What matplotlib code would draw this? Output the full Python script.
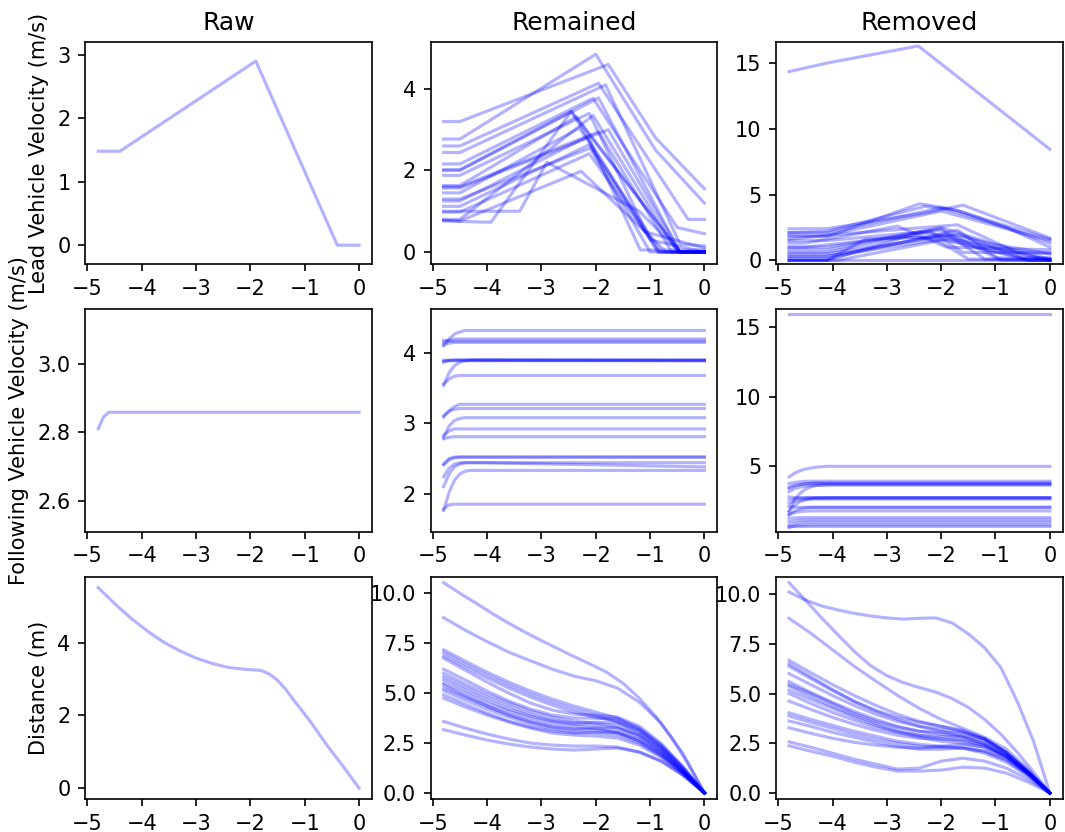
import matplotlib
matplotlib.use("Agg")
import matplotlib.pyplot as plt

columnTitles = ["Raw", "Remained", "Removed"]
rowLabels = [
    "Lead Vehicle Velocity (m/s)",
    "Following Vehicle Velocity (m/s)",
    "Distance (m)",
]

# ---- lead vehicle velocity: (time knots, values) per trajectory ----
leadRaw = [
    ([-4.8, -4.4, -1.9, -0.4, 0], [1.48, 1.48, 2.9, 0.0, 0.0]),
]

leadRemained = [
    ([-4.8, -4.5, -1.77, -0.9, 0], [3.2, 3.2, 4.6, 2.8, 1.55]),
    ([-4.8, -4.5, -2.0, -0.9, 0], [2.77, 2.77, 4.85, 2.5, 1.2]),
    ([-4.8, -4.5, -1.95, -0.3, 0], [2.6, 2.6, 4.14, 0.8, 0.8]),
    ([-4.8, -4.5, -1.82, -0.45, 0], [2.44, 2.44, 4.1, 0.2, 0.15]),
    ([-4.8, -4.5, -2.05, -0.5, 0], [2.16, 2.16, 3.77, 0.6, 0.45]),
    ([-4.8, -4.5, -2.45, -0.45, 0], [2.02, 2.02, 3.45, 0.0, 0.0]),
    ([-4.8, -4.5, -2.12, -1.0, 0], [1.88, 1.88, 3.4, 0.3, 0.0]),
    ([-4.8, -4.5, -2.36, -0.45, 0], [1.63, 1.63, 3.32, 0.0, 0.0]),
    ([-4.8, -4.5, -1.77, -0.45, 0], [1.57, 1.57, 3.0, 0.0, 0.0]),
    ([-4.8, -4.5, -2.3, -0.8, 0], [1.45, 1.45, 3.04, 0.0, 0.0]),
    ([-4.8, -4.5, -2.15, -1.18, 0], [1.25, 1.25, 2.83, 0.05, 0.05]),
    ([-4.8, -4.5, -2.12, -0.85, 0], [1.12, 1.12, 2.63, 0.0, 0.0]),
    ([-4.8, -4.5, -2.12, -1.1, 0], [0.98, 0.98, 2.41, 0.5, 0.1]),
    ([-4.8, -3.4, -2.9, -1.2, -0.45, 0], [1.0, 1.0, 2.2, 1.0, 0.0, 0.0]),
    ([-4.8, -4.5, -3.93, -2.45, -0.85, 0], [0.78, 0.75, 0.73, 3.45, 0.0, 0.0]),
    ([-4.8, -4.5, -2.27, -0.7, 0], [0.76, 0.76, 1.98, 0.0, 0.0]),
    ([-4.8, -4.5, -1.95, -0.45, 0], [2.0, 2.0, 3.78, 0.0, 0.0]),
    ([-4.8, -4.5, -2.1, -1.0, 0], [1.3, 1.3, 2.55, 0.0, 0.0]),
    ([-4.8, -4.5, -2.05, -0.5, 0], [0.8, 0.8, 3.35, 0.0, 0.0]),
    ([-4.8, -4.5, -1.95, -0.6, 0], [1.6, 1.6, 2.95, 0.0, 0.0]),
]

leadRemoved = [
    ([-4.8, -4.1, -2.42, 0], [14.35, 15.0, 16.3, 8.45]),
    ([-4.8, -4.1, -2.4, -1.8, 0], [1.8, 1.8, 4.3, 3.9, 1.6]),
    ([-4.8, -4.1, -2.0, 0], [1.6, 1.9, 3.75, 1.5]),
    ([-4.8, -4.1, -2.3, -1.6, 0], [2.4, 2.4, 3.6, 4.2, 1.7]),
    ([-4.8, -4.1, -2.3, -1.7, 0], [2.1, 2.2, 4.1, 3.8, 1.3]),
    ([-4.8, -4.5, -2.8, -1.9, 0], [1.3, 1.3, 2.6, 1.0, 0.8]),
    ([-4.8, -4.1, -2.0, -1.0, 0], [1.0, 1.0, 2.4, 0.2, 0.1]),
    ([-4.8, -4.1, -2.0, -1.0, 0], [0.8, 0.8, 2.5, 1.2, 0.5]),
    ([-4.8, -4.1, -1.7, -0.4, 0], [0.5, 0.5, 2.0, 0.0, 0.0]),
    ([-4.8, -4.1, -2.0, -0.5, 0], [0.3, 0.3, 1.6, 0.2, 0.2]),
    ([-4.8, -4.1, -1.7, -0.9, 0], [0.1, 0.1, 2.3, 0.0, 0.0]),
    ([-4.8, -4.1, -2.4, -1.6, 0], [0.0, 0.0, 2.1, 1.8, 0.1]),
    ([-4.8, -3.9, -1.9, -0.4, 0], [0.0, 0.0, 1.6, 0.0, 0.0]),
    ([-4.8, 0], [0.05, 0.05]),
    ([-4.8, -4.1, -2.0, -1.2, 0], [1.5, 1.5, 2.3, 0.1, 0.1]),
    ([-4.8, -4.1, -1.7, -0.6, 0], [1.9, 1.9, 2.7, 0.6, 0.5]),
    ([-4.8, -4.1, -2.2, -1.6, 0], [0.6, 0.6, 2.2, 0.6, 0.6]),
    ([-4.8, -4.5, -2.7, -2.1, -1.5, 0], [1.0, 1.0, 1.8, 1.6, 0.1, 0.0]),
    ([-4.8, -4.1, -3.4, -2.0, 0], [0.0, 0.0, 1.6, 1.8, 0.0]),
    ([-4.8, -4.1, -2.0, -0.8, 0], [2.1, 2.1, 4.0, 2.5, 1.0]),
    ([-4.8, -4.1, -2.0, 0], [0.3, 0.3, 1.9, 0.0]),
]

# ---- following vehicle velocity ----
followTime = [-4.8, -4.7, -4.6, -4.5, -4.4, -4.3, -4.1, 0]

followRaw = [
    [2.81, 2.845, 2.858, 2.858, 2.858, 2.858, 2.858, 2.858],
]

followRemained = [
    [4.10, 4.20, 4.27, 4.30, 4.32, 4.32, 4.32, 4.32],
    [4.15, 4.18, 4.20, 4.20, 4.20, 4.20, 4.20, 4.20],
    [4.18, 4.17, 4.17, 4.17, 4.17, 4.17, 4.17, 4.17],
    [4.12, 4.14, 4.15, 4.15, 4.15, 4.15, 4.15, 4.15],
    [3.87, 3.89, 3.90, 3.90, 3.90, 3.90, 3.90, 3.90],
    [3.88, 3.90, 3.90, 3.90, 3.90, 3.90, 3.90, 3.89],
    [3.90, 3.89, 3.89, 3.89, 3.89, 3.89, 3.89, 3.89],
    [3.54, 3.72, 3.82, 3.87, 3.89, 3.90, 3.90, 3.90],
    [3.56, 3.63, 3.67, 3.68, 3.68, 3.68, 3.68, 3.68],
    [3.09, 3.18, 3.24, 3.27, 3.27, 3.27, 3.27, 3.27],
    [3.11, 3.17, 3.20, 3.21, 3.21, 3.21, 3.21, 3.21],
    [2.80, 2.96, 3.04, 3.07, 3.08, 3.08, 3.08, 3.08],
    [2.83, 2.89, 2.92, 2.92, 2.92, 2.92, 2.92, 2.92],
    [2.78, 2.80, 2.81, 2.81, 2.81, 2.81, 2.81, 2.81],
    [2.41, 2.48, 2.51, 2.52, 2.52, 2.52, 2.52, 2.52],
    [2.42, 2.50, 2.52, 2.52, 2.52, 2.52, 2.52, 2.52],
    [2.24, 2.36, 2.42, 2.44, 2.44, 2.44, 2.44, 2.44],
    [2.10, 2.28, 2.38, 2.42, 2.44, 2.44, 2.44, 2.38],
    [1.76, 2.02, 2.19, 2.28, 2.32, 2.33, 2.33, 2.33],
    [1.78, 1.84, 1.85, 1.85, 1.85, 1.85, 1.85, 1.85],
]

followRemoved = [
    [16.0, 16.0, 16.0, 16.0, 16.0, 16.0, 16.0, 16.0],
    [4.24, 4.50, 4.68, 4.80, 4.88, 4.94, 5.00, 5.00],
    [3.76, 3.84, 3.89, 3.92, 3.93, 3.93, 3.93, 3.93],
    [3.40, 3.58, 3.68, 3.74, 3.78, 3.80, 3.80, 3.80],
    [3.17, 3.38, 3.50, 3.57, 3.61, 3.63, 3.64, 3.64],
    [1.80, 2.60, 3.05, 3.35, 3.52, 3.62, 3.70, 3.70],
    [2.57, 2.66, 2.71, 2.73, 2.74, 2.74, 2.74, 2.74],
    [2.33, 2.48, 2.57, 2.61, 2.63, 2.64, 2.64, 2.64],
    [1.74, 2.20, 2.45, 2.60, 2.68, 2.72, 2.74, 2.74],
    [2.10, 2.07, 2.05, 2.05, 2.05, 2.05, 2.05, 2.05],
    [1.55, 1.67, 1.74, 1.77, 1.79, 1.79, 1.79, 1.79],
    [1.26, 1.29, 1.31, 1.31, 1.31, 1.31, 1.31, 1.31],
    [1.02, 1.08, 1.12, 1.14, 1.14, 1.14, 1.14, 1.14],
    [0.79, 0.88, 0.94, 0.97, 0.98, 0.98, 0.98, 0.98],
    [0.60, 0.70, 0.76, 0.78, 0.79, 0.79, 0.79, 0.79],
    [0.65, 0.67, 0.67, 0.67, 0.67, 0.67, 0.67, 0.67],
    [2.80, 2.76, 2.74, 2.74, 2.74, 2.74, 2.74, 2.74],
    [3.50, 3.63, 3.70, 3.74, 3.76, 3.76, 3.76, 3.76],
    [1.50, 1.78, 1.93, 2.00, 2.04, 2.05, 2.05, 2.05],
]

# ---- distance between vehicles ----
distTime = [-4.8, -4.4, -4.0, -3.6, -3.2, -2.8, -2.4, -2.0, -1.6, -1.2, -0.8, -0.4, 0]
distTimeFine = [-4.8, -4.5, -4.2, -3.9, -3.6, -3.3, -3.0, -2.7, -2.4,
                -2.1, -1.8, -1.5, -1.2, -0.9, -0.6, -0.3, 0]
distTimeRaw = [-4.8, -4.5, -4.2, -3.9, -3.6, -3.3, -3.0, -2.7, -2.4, -2.1,
               -1.8, -1.65, -1.5, -1.35, -1.2, -0.9, -0.6, -0.3, 0]

distRaw = [
    (distTimeRaw, [5.52, 5.08, 4.68, 4.33, 4.02, 3.78, 3.58, 3.43, 3.32, 3.27,
                   3.24, 3.14, 2.97, 2.72, 2.42, 1.84, 1.2, 0.61, 0.0]),
]

distRemained = [
    (distTimeFine, [10.53, 10.0, 9.5, 8.98, 8.5, 8.05, 7.63, 7.23, 6.83,
                    6.45, 6.05, 5.5, 4.75, 3.85, 2.75, 1.45, 0]),
    (distTime, [8.78, 8.15, 7.58, 7.05, 6.62, 6.2, 5.85, 5.62, 5.25, 4.55, 3.5, 2.0, 0]),
    (distTime, [7.17, 6.6, 6.05, 5.55, 5.1, 4.7, 4.35, 4.05, 3.75, 3.2, 2.4, 1.35, 0]),
    (distTime, [7.03, 6.45, 5.9, 5.4, 4.95, 4.55, 4.2, 3.9, 3.55, 3.0, 2.25, 1.25, 0]),
    (distTime, [6.87, 6.3, 5.75, 5.25, 4.8, 4.4, 4.05, 3.78, 3.6, 3.15, 2.3, 1.2, 0]),
    (distTime, [6.75, 6.15, 5.55, 5.0, 4.5, 4.15, 3.95, 3.9, 3.8, 3.35, 2.5, 1.3, 0]),
    (distTime, [6.2, 5.65, 5.1, 4.6, 4.2, 3.9, 3.75, 3.75, 3.7, 3.25, 2.4, 1.25, 0]),
    (distTime, [6.0, 5.45, 4.95, 4.5, 4.1, 3.8, 3.6, 3.5, 3.35, 2.9, 2.1, 1.1, 0]),
    (distTime, [5.83, 5.3, 4.8, 4.35, 3.95, 3.65, 3.5, 3.55, 3.5, 3.1, 2.25, 1.15, 0]),
    (distTime, [5.67, 5.15, 4.65, 4.2, 3.85, 3.6, 3.45, 3.4, 3.25, 2.8, 2.05, 1.1, 0]),
    (distTime, [5.5, 5.0, 4.5, 4.1, 3.75, 3.5, 3.35, 3.25, 3.05, 2.6, 1.95, 1.05, 0]),
    (distTime, [5.25, 4.8, 4.35, 3.95, 3.6, 3.35, 3.2, 3.15, 3.0, 2.6, 1.9, 1.0, 0]),
    (distTime, [5.13, 4.65, 4.2, 3.8, 3.45, 3.2, 3.05, 3.0, 2.9, 2.5, 1.85, 1.0, 0]),
    (distTime, [4.92, 4.45, 4.0, 3.6, 3.3, 3.1, 3.0, 3.05, 3.05, 2.7, 2.0, 1.05, 0]),
    (distTime, [4.75, 4.3, 3.9, 3.55, 3.25, 3.0, 2.9, 2.85, 2.75, 2.4, 1.8, 0.95, 0]),
    (distTime, [3.58, 3.25, 2.95, 2.7, 2.5, 2.4, 2.35, 2.35, 2.3, 2.05, 1.6, 0.9, 0]),
    (distTime, [3.17, 2.9, 2.65, 2.45, 2.3, 2.2, 2.15, 2.2, 2.25, 2.05, 1.6, 0.9, 0]),
    (distTime, [5.4, 4.85, 4.35, 3.9, 3.55, 3.3, 3.2, 3.25, 3.25, 2.9, 2.15, 1.1, 0]),
]

distRemoved = [
    (distTimeFine, [10.1, 9.7, 9.4, 9.2, 9.03, 8.9, 8.8, 8.74, 8.78,
                    8.8, 8.55, 8.0, 7.3, 6.3, 4.6, 2.6, 0]),
    (distTimeFine, [10.57, 9.7, 8.8, 7.95, 7.12, 6.4, 5.9, 5.55, 5.3,
                    5.07, 4.75, 4.3, 3.7, 2.95, 2.05, 1.05, 0]),
    (distTime, [8.78, 8.03, 7.2, 6.37, 5.62, 4.9, 4.25, 3.7, 3.25, 2.8, 2.2, 1.2, 0]),
    (distTime, [6.67, 6.05, 5.45, 4.9, 4.4, 3.95, 3.6, 3.35, 3.1, 2.7, 2.0, 1.05, 0]),
    (distTime, [6.5, 5.85, 5.2, 4.6, 4.1, 3.7, 3.35, 3.1, 2.85, 2.45, 1.85, 1.0, 0]),
    (distTime, [6.37, 5.75, 5.15, 4.6, 4.15, 3.8, 3.55, 3.35, 3.15, 2.75, 2.05, 1.1, 0]),
    (distTime, [6.0, 5.45, 4.9, 4.4, 3.95, 3.6, 3.35, 3.2, 3.05, 2.7, 2.0, 1.05, 0]),
    (distTime, [5.45, 5.0, 4.5, 4.0, 3.6, 3.3, 3.1, 3.05, 3.0, 2.7, 2.05, 1.1, 0]),
    (distTime, [5.37, 4.85, 4.35, 3.9, 3.5, 3.15, 2.9, 2.75, 2.65, 2.4, 1.85, 1.0, 0]),
    (distTime, [5.17, 4.7, 4.25, 3.8, 3.4, 3.05, 2.8, 2.6, 2.5, 2.3, 1.8, 0.95, 0]),
    (distTime, [5.0, 4.5, 4.05, 3.65, 3.3, 3.05, 2.9, 2.85, 2.85, 2.6, 2.0, 1.05, 0]),
    (distTime, [4.62, 4.2, 3.8, 3.45, 3.15, 2.9, 2.75, 2.7, 2.65, 2.4, 1.85, 1.0, 0]),
    (distTime, [4.03, 3.7, 3.4, 3.1, 2.85, 2.6, 2.45, 2.35, 2.25, 2.0, 1.55, 0.85, 0]),
    (distTime, [3.87, 3.55, 3.25, 2.95, 2.7, 2.5, 2.35, 2.3, 2.3, 2.1, 1.65, 0.9, 0]),
    (distTime, [3.62, 3.35, 3.05, 2.8, 2.55, 2.35, 2.2, 2.2, 2.25, 2.1, 1.7, 0.95, 0]),
    (distTime, [3.28, 3.0, 2.75, 2.55, 2.4, 2.3, 2.25, 2.35, 2.45, 2.3, 1.8, 1.0, 0]),
    (distTime, [2.57, 2.3, 2.0, 1.7, 1.45, 1.2, 1.25, 1.6, 1.75, 1.6, 1.25, 0.7, 0]),
    (distTime, [2.37, 2.1, 1.85, 1.55, 1.3, 1.1, 1.1, 1.15, 1.3, 1.25, 1.0, 0.55, 0]),
    (distTime, [5.6, 5.05, 4.55, 4.1, 3.7, 3.35, 3.1, 2.95, 2.8, 2.5, 1.9, 1.0, 0]),
]


def drawPanel(axes, lines):
    allValues = []
    for times, values in lines:
        axes.plot(times, values, color="blue", alpha=0.3)
        allValues.extend(values)
    # a little headroom above and below the data
    axes.set_ylim(min(allValues) - 0.3, max(allValues) + 0.3)


fig, axs = plt.subplots(3, 3, figsize=(7.1, 5.5467), dpi=150)

panels = [
    [leadRaw, leadRemained, leadRemoved],
    [[(followTime, v) for v in followRaw],
     [(followTime, v) for v in followRemained],
     [(followTime, v) for v in followRemoved]],
    [distRaw, distRemained, distRemoved],
]

for row in range(3):
    for col in range(3):
        drawPanel(axs[row, col], panels[row][col])
        axs[row, col].set_xticks([-5, -4, -3, -2, -1, 0])
    axs[row, 0].set_ylabel(rowLabels[row])

for col in range(3):
    axs[0, col].set_title(columnTitles[col])

fig.subplots_adjust(left=0.08, right=0.998, top=0.9495, bottom=0.0397,
                    wspace=0.204, hspace=0.203)
plt.savefig("out.png")
